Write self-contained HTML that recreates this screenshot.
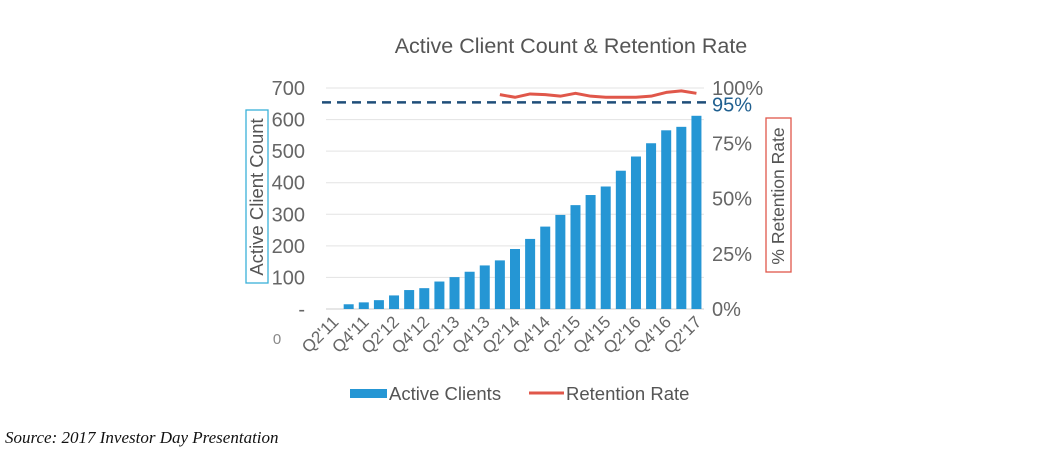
<!DOCTYPE html>
<html><head><meta charset="utf-8"><style>
body{margin:0;background:#fff;width:1040px;height:470px;overflow:hidden}
svg text{font-family:"Liberation Sans",sans-serif}
</style></head><body>
<svg width="1040" height="470">
<text x="571" y="53" text-anchor="middle" font-size="21.5" fill="#555">Active Client Count &amp; Retention Rate</text>
<g id="grid"></g><g id="bars"></g><g id="xlabels"></g><g id="ylabels"></g>
<rect x="246" y="110" width="22" height="173" fill="none" stroke="#3ab0d8" stroke-width="1.3"/>
<text transform="translate(263,197) rotate(-90)" text-anchor="middle" font-size="18.5" fill="#555">Active Client Count</text>
<rect x="766" y="118" width="25" height="154" fill="none" stroke="#e0574a" stroke-width="1.3"/>
<text transform="translate(784,196) rotate(-90)" text-anchor="middle" font-size="17.5" fill="#555">% Retention Rate</text>
<text x="277" y="344" text-anchor="middle" font-size="15" fill="#888">0</text>
<rect x="350" y="389" width="37" height="9" fill="#2596d4"/>
<text x="389" y="400" font-size="18.5" fill="#555">Active Clients</text>
<line x1="529" y1="393" x2="564" y2="393" stroke="#e0574a" stroke-width="3"/>
<text x="566" y="400" font-size="18.5" fill="#555">Retention Rate</text>
<text x="5" y="443" font-size="17" font-style="italic" fill="#111" style="font-family:'Liberation Serif',serif">Source: 2017 Investor Day Presentation</text>
</svg>
<script>
const categories=["Q2'11","Q3'11","Q4'11","Q1'12","Q2'12","Q3'12","Q4'12","Q1'13","Q2'13","Q3'13","Q4'13","Q1'14","Q2'14","Q3'14","Q4'14","Q1'15","Q2'15","Q3'15","Q4'15","Q1'16","Q2'16","Q3'16","Q4'16","Q1'17","Q2'17"];
const clients=[0,15,21,28,43,60,66,87,101,118,138,154,190,222,261,298,329,361,388,438,483,525,566,577,612];
const retention=[null,null,null,null,null,null,null,null,null,null,null,97,95.8,97.3,97,96.3,97.6,96.3,95.8,95.8,95.8,96.3,98,98.7,97.6];
const benchmark=93.5;
const leftTicks=[0,100,200,300,400,500,600,700];
const leftTickLabels=["-","100","200","300","400","500","600","700"];
const rightTicks=[0,25,50,75,100];
const NS="http://www.w3.org/2000/svg";
const X0=326,X1=704,Y0=309,Y700=88;
const band=(X1-X0)/categories.length;
const xc=i=>X0+band*(i+0.5);
const y=v=>Y0-(v/700)*(Y0-Y700);
const yr=p=>Y0-(p/100)*(Y0-Y700);
function mk(t,a,p){const e=document.createElementNS(NS,t);for(const k in a)e.setAttribute(k,a[k]);p.appendChild(e);return e;}
const grid=document.getElementById('grid'),bars=document.getElementById('bars'),xl=document.getElementById('xlabels'),yl=document.getElementById('ylabels');
leftTicks.forEach((t,i)=>{
 const g=mk('line',{x1:X0,x2:X1,y1:y(t),y2:y(t),stroke:i==0?'#ccc':'#e3e3e3','stroke-width':1},grid);
 
 
 const l=mk('text',{x:305,y:y(t)+7,'text-anchor':'end','font-size':20,fill:'#666'},yl);
 l.textContent=leftTickLabels[i];
 
 
});
rightTicks.forEach(t=>{
 const l=mk('text',{x:712,y:yr(t)+7,'font-size':20,fill:'#666'},yl);
 l.textContent=t+'%';
 
 
});
const bl=mk('text',{x:712,y:yr(benchmark)+9,'font-size':20,fill:'#1f5f8f'},yl);
bl.textContent='95%';


const dl=mk('line',{x1:322,x2:706,y1:yr(benchmark),y2:yr(benchmark),stroke:'#1f4e79','stroke-width':2.5,'stroke-dasharray':'9 6'},grid);


clients.forEach((v,i)=>{
 if(v>0){const r=mk('rect',{x:xc(i)-5,y:y(v),width:10,height:Y0-y(v),fill:'#2596d4'},bars);
 
 }
 if(i%2==0){const t=mk('text',{transform:`translate(${xc(i)+6},${Y0+14}) rotate(-45)`,'text-anchor':'end','font-size':17,fill:'#666'},xl);
 t.textContent=categories[i];
 
 }
});
let d='';retention.forEach((p,i)=>{if(p!=null)d+=(d?'L':'M')+xc(i)+','+yr(p);});
const pl=mk('path',{d:d,fill:'none',stroke:'#e0574a','stroke-width':3,'stroke-linejoin':'round'},bars);


</script>
</body></html>
